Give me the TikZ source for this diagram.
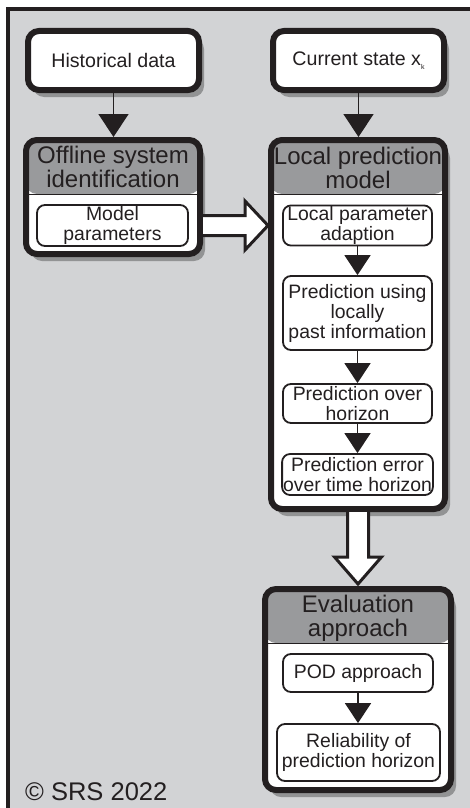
\documentclass[tikz,border=0pt]{standalone}
\usepackage{fontspec}
\setmainfont{Liberation Sans}
\usepackage{tikz}
\usetikzlibrary{arrows.meta, positioning, calc, shadows}
\definecolor{FrameGray}{RGB}{210, 211, 213}
\definecolor{HeadGray}{RGB}{153, 154, 156}
\definecolor{InkDark}{RGB}{35, 31, 32}
\tikzset{
    boxShadow/.style={drop shadow={shadow xshift=5pt, shadow yshift=-7pt, opacity=0.3, fill=black}},
    arrowInk/.style={line width=1.5pt, draw=InkDark}
}

\begin{document}
\begin{tikzpicture}[
        x=1pt, y=-1pt,
        % Input boxes on top
        source/.style={
            rectangle,
            draw=InkDark,
            line width=6pt,
            fill=white,
            rounded corners=11pt,
            minimum width=171pt,
            minimum height=59pt,
            align=center,
            text=InkDark,
            font=\fontsize{19.6}{21}\selectfont,
            boxShadow
        },
        % Panels with a grey title bar
        panel/.style={
            rectangle,
            draw=InkDark,
            line width=6pt,
            fill=white,
            rounded corners=11pt,
            boxShadow,
            path picture={
                \fill[HeadGray] (path picture bounding box.north west) rectangle ([yshift=-54pt]path picture bounding box.north east);
                \draw[InkDark, line width=1pt] ([yshift=-54pt]path picture bounding box.north west) -- ([yshift=-54pt]path picture bounding box.north east);
            }
        },
        panelTitle/.style={align=center, inner sep=0pt, text=InkDark, font=\fontsize{24}{24}\selectfont},
        stepBox/.style={rectangle, draw=InkDark, line width=1.8pt, fill=white, rounded corners=8pt, align=center, inner sep=1pt, text=InkDark, font=\fontsize{19.4}{20}\selectfont},
        % Flow Lines
        flow/.style={-{Triangle[width=30pt, length=23pt]}, arrowInk},
        innerFlow/.style={-{Triangle[width=26pt, length=20pt]}, arrowInk},
        bigFlow/.style={draw=InkDark, line width=3pt, fill=white, miter limit=10}
    ]

    \useasboundingbox (0, 0) rectangle (469, 808);

    % --- BACKGROUND FRAME ---
    \fill[FrameGray] (6, 8) rectangle (480, 820);
    \draw[InkDark, line width=4pt] (7.5, 820) -- (7.5, 9.5) -- (480, 9.5);

    % --- NODES ---
    \node[source] (hist)  at (113.5, 60.5) {Historical data};
    \node[source] (state) at (358.5, 60.5) {Current state x\raisebox{-0.35ex}{\fontsize{7}{7}\selectfont k}};

    \node[panel, minimum width=174pt, minimum height=114pt] (offline) at (113, 197) {};
    \node[panelTitle] (offlineTitle) at ([yshift=-30pt]offline.north) {Offline system\\identification};
    \node[stepBox, minimum width=151pt, minimum height=41pt] (params) at (112.5, 225.5) {Model\\parameters};

    \node[panel, minimum width=174pt, minimum height=369pt] (local) at (358, 324.5) {};
    \node[panelTitle] (localTitle) at ([yshift=-31pt]local.north) {Local prediction\\model};
    \node[stepBox, minimum width=149pt, minimum height=39pt] (adapt)   at (357.5, 225.5) {Local parameter\\adaption};
    \node[stepBox, minimum width=149pt, minimum height=74pt] (past)    at (357.5, 313)   {Prediction using\\locally\\past information};
    \node[stepBox, minimum width=149pt, minimum height=39pt] (horizon) at (357.5, 403.5) {Prediction over\\horizon};
    \node[stepBox, minimum width=149pt, minimum height=41pt] (error)   at (357.5, 474.5) {Prediction error\\over time horizon};

    \node[panel, minimum width=186pt, minimum height=201pt] (eval) at (358, 689.5) {};
    \node[panelTitle] (evalTitle) at ([yshift=-32pt]eval.north) {Evaluation\\approach};
    \node[stepBox, minimum width=150pt, minimum height=38pt] (pod)    at (358, 673)     {POD approach};
    \node[stepBox, minimum width=163pt, minimum height=57pt] (reliab) at (358.5, 752.5) {Reliability of\\prediction horizon};

    \node[anchor=base west, inner sep=0pt, text=InkDark, font=\fontsize{25.5}{26}\selectfont] (copy) at (25, 800) {© SRS 2022};

    % --- FLOWS ---
    \draw[flow] (hist.south) -- (hist.south |- offline.north);
    \draw[flow] (state.south) -- (state.south |- local.north);

    \draw[innerFlow] (adapt) -- (past);
    \draw[innerFlow] (past) -- (horizon);
    \draw[innerFlow] (horizon) -- (error);
    \draw[innerFlow] (pod.south) -- (pod.south |- reliab.north);

    % Hollow arrow: parameters -> local model
    \coordinate (rightTail) at (offline.east |- params);
    \coordinate (rightTip)  at (local.west |- params);
    \filldraw[bigFlow] ($(rightTail)+(0,-10)$) -- ($(rightTip)+(-23,-10)$) -- ($(rightTip)+(-23,-24.5)$) -- (rightTip)
        -- ($(rightTip)+(-23,24.5)$) -- ($(rightTip)+(-23,10)$) -- ($(rightTail)+(0,10)$);

    % Hollow arrow: local model -> evaluation
    \coordinate (downTail) at (local.south);
    \coordinate (downTip)  at ([yshift=2pt]eval.north);
    \filldraw[bigFlow] ($(downTail)+(-10.5,0)$) -- ($(downTip)+(-10.5,-27)$) -- ($(downTip)+(-23.5,-27)$) -- (downTip)
        -- ($(downTip)+(23.5,-27)$) -- ($(downTip)+(10.5,-27)$) -- ($(downTail)+(10.5,0)$);

\end{tikzpicture}
\end{document}
